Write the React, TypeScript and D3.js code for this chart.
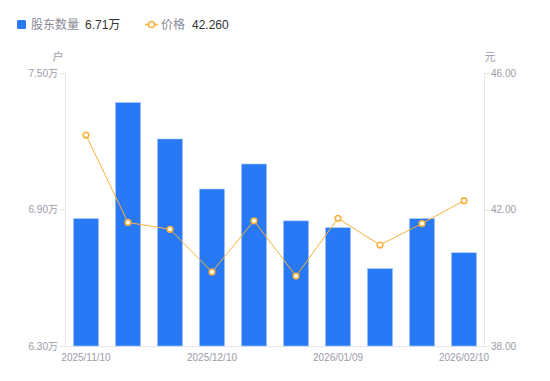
import React from "react";
import * as d3 from "d3";

const categories = [
  "2025/11/10", "2025/11/20", "2025/11/30", "2025/12/10", "2025/12/20",
  "2025/12/31", "2026/01/09", "2026/01/20", "2026/01/30", "2026/02/10",
];
const holders = [6.86, 7.37, 7.21, 6.99, 7.10, 6.85, 6.82, 6.64, 6.86, 6.71];
const prices = [44.18, 41.62, 41.42, 40.17, 41.67, 40.05, 41.74, 40.96, 41.59, 42.26];
const leftTicks = [6.3, 6.9, 7.5];
const rightTicks = [38, 42, 46];
const xLabelIndices = [0, 3, 6, 9];
const legendHolders = "6.71万";
const legendPrice = "42.260";

const W = 550, H = 381;
const L = 65, R = 485, T = 73, B = 346;
const FONT = "Arial, 'Liberation Sans', 'Noto Sans CJK SC', sans-serif";
const GRAY = "#9b9ba8";
const BLUE = "#2979f6";
const ORANGE = "#fbb03b";

export default function App() {
  const x = d3.scaleBand<string>().domain(categories).range([L, R]).paddingInner(0).paddingOuter(0);
  const yL = d3.scaleLinear().domain([6.3, 7.5]).range([B, T]);
  const yR = d3.scaleLinear().domain([38, 46]).range([B, T]);
  const bw = x.bandwidth() * 0.6;
  const cx = (c: string) => (x(c) as number) + x.bandwidth() / 2;
  const line = d3.line<number>().x((_, i) => cx(categories[i])).y((d) => yR(d));

  return (
    <svg width={W} height={H} style={{ position: "absolute", left: 0, top: 0 }} fontFamily={FONT}>
      <rect width={W} height={H} fill="#fff" />
      {/* legend */}
      <rect x={17} y={20} width={9} height={9} rx={1.5} fill={BLUE} />
      <text x={31} y={29} fontSize={12} fill="#8a8a96">股东数量</text>
      <text x={85} y={29} fontSize={12} fill="#333">{legendHolders}</text>
      <line x1={145} x2={158} y1={24.5} y2={24.5} stroke={ORANGE} strokeWidth={1.5} />
      <circle cx={151.5} cy={24.5} r={3} fill="#fff" stroke={ORANGE} strokeWidth={1.5} />
      <text x={161} y={29} fontSize={12} fill="#8a8a96">价格</text>
      <text x={192} y={29} fontSize={12} fill="#333">{legendPrice}</text>

      {/* unit labels */}
      <text x={58} y={61} fontSize={11} fill={GRAY} textAnchor="middle">户</text>
      <text x={490} y={61} fontSize={11} fill={GRAY} textAnchor="middle">元</text>

      {/* axes */}
      <line x1={L + 0.5} x2={L + 0.5} y1={T} y2={B} stroke="#e6e6e6" />
      <line x1={R - 0.5} x2={R - 0.5} y1={T} y2={B} stroke="#e6e6e6" />
      <line x1={L} x2={R} y1={B + 0.5} y2={B + 0.5} stroke="#e6e6e6" />
      {leftTicks.map((t) => (
        <g key={"l" + t}>
          <line x1={L - 5} x2={L} y1={Math.round(yL(t)) + 0.5} y2={Math.round(yL(t)) + 0.5} stroke="#e6e6e6" />
          <text x={L - 7} y={yL(t)} dy="0.35em" fontSize={10} fill={GRAY} textAnchor="end">
            {t.toFixed(2)}万
          </text>
        </g>
      ))}
      {rightTicks.map((t) => (
        <g key={"r" + t}>
          <line x1={R} x2={R + 5} y1={Math.round(yR(t)) + 0.5} y2={Math.round(yR(t)) + 0.5} stroke="#e6e6e6" />
          <text x={R + 6} y={yR(t)} dy="0.35em" fontSize={10} fill={GRAY} textAnchor="start">
            {t.toFixed(2)}
          </text>
        </g>
      ))}
      {xLabelIndices.map((i) => (
        <text key={"x" + i} x={cx(categories[i])} y={361} fontSize={10} fill={GRAY} textAnchor="middle">
          {categories[i]}
        </text>
      ))}

      {/* bars */}
      {holders.map((v, i) => (
        <rect
          key={"b" + i}
          x={cx(categories[i]) - bw / 2}
          y={yL(v)}
          width={bw}
          height={B - yL(v)}
          fill={BLUE}
          stroke="#a9c8fb"
          strokeWidth={0.6}
        />
      ))}

      {/* line */}
      <path d={line(prices) || ""} fill="none" stroke={ORANGE} strokeWidth={1} />
      {prices.map((v, i) => (
        <circle key={"p" + i} cx={cx(categories[i])} cy={yR(v)} r={2.8} fill="#fff" stroke={ORANGE} strokeWidth={1.6} />
      ))}
    </svg>
  );
}
